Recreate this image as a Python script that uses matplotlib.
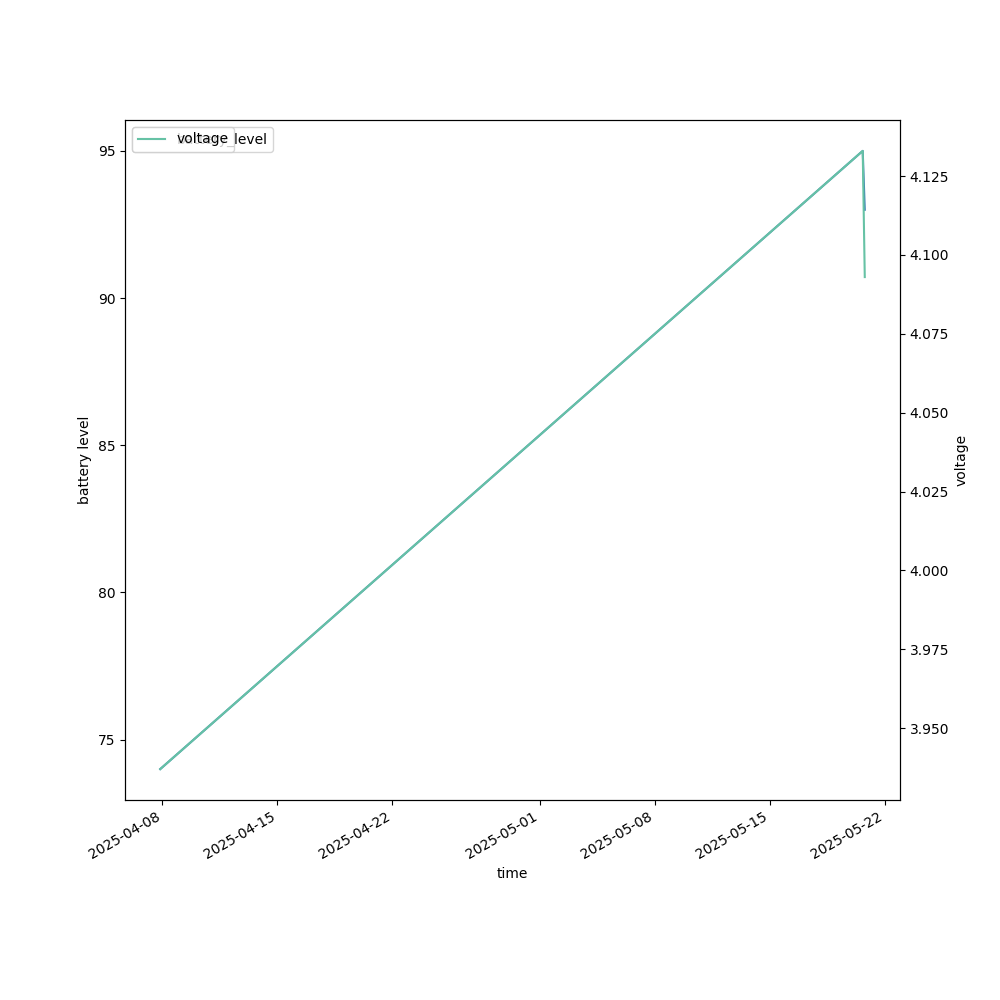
import pandas as pd
import matplotlib
matplotlib.use("Agg")
import matplotlib.pyplot as plt

# readings
times = pd.to_datetime(["2025-04-07 21:00", "2025-05-20 16:00", "2025-05-20 19:00"])
battery_level = [74, 95, 93]
voltage = [3.937, 4.133, 4.093]

fig, ax = plt.subplots(figsize=(10, 10), dpi=100)
ax.plot(times, battery_level, color="#3b7fb6", label="battery_level")
ax.set_xlabel("time")
ax.set_ylabel("battery level")
ax.legend(loc="upper left")

ax2 = ax.twinx()
ax2.plot(times, voltage, color="#66c2a5", label="voltage")
ax2.set_ylabel("voltage")
ax2.legend(loc="upper left")

fig.autofmt_xdate()
plt.savefig("out.png")
